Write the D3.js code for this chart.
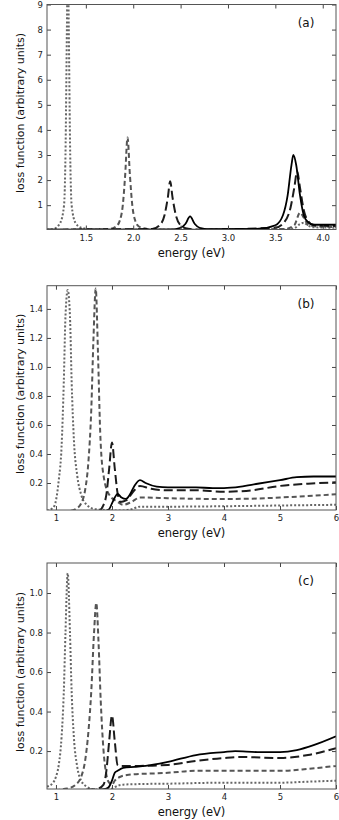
<!DOCTYPE html>
<html>
    <head>
        <script src="https://cdn.jsdelivr.net/npm/d3@7"></script>
        <style>
            body { margin: 0; background: #fff; }
            text { font-family: "DejaVu Sans", sans-serif; }
        </style>
    </head>
    <body>
        <div class="chart"></div>
    </body>
    <script>
        // ---- data: [energy eV, loss] ----
        // panel (a)
        const aSolid = [[1.09,0.02],[2.4,0.03],[2.5,0.1],[2.55,0.25],[2.6,0.55],[2.65,0.25],[2.7,0.1],[2.8,0.04],
            [3.3,0.05],[3.5,0.2],[3.58,0.6],[3.63,1.4],[3.67,2.6],[3.69,3.0],[3.72,2.6],[3.76,1.4],[3.8,0.6],
            [3.85,0.3],[3.9,0.22],[4.14,0.22]];
        const aLong = [[1.09,0.02],[2.2,0.05],[2.28,0.2],[2.33,0.6],[2.365,1.3],[2.39,1.95],[2.415,1.3],[2.45,0.6],
            [2.5,0.2],[2.58,0.06],[2.7,0.03],[3.5,0.1],[3.6,0.35],[3.66,0.9],[3.7,1.7],[3.73,2.35],[3.76,1.7],
            [3.8,0.8],[3.85,0.35],[3.9,0.22],[4.0,0.18],[4.14,0.17]];
        const aDash = [[1.09,0.02],[1.75,0.05],[1.82,0.15],[1.86,0.4],[1.89,1.0],[1.915,2.2],[1.94,3.7],[1.965,2.2],
            [1.99,1.0],[2.02,0.4],[2.06,0.15],[2.15,0.05],[2.3,0.02],[3.6,0.05],[3.7,0.2],[3.76,0.7],[3.8,0.5],
            [3.85,0.2],[3.95,0.15],[4.14,0.13]];
        const aDot = [[1.09,0.02],[1.16,0.05],[1.23,0.3],[1.27,1.0],[1.285,3],[1.30,8],[1.31,11],[1.32,8],
            [1.335,3],[1.35,1],[1.39,0.3],[1.45,0.1],[1.6,0.02],[3.6,0.03],[3.7,0.08],[3.76,0.25],[3.8,0.3],
            [3.84,0.2],[3.9,0.12],[4.14,0.1]];

        // panel (b)
        const bSolid = [[0.84,0.0],[1.85,0.005],[1.95,0.02],[2.0,0.06],[2.05,0.1],[2.1,0.125],[2.17,0.1],[2.25,0.09],
            [2.32,0.12],[2.4,0.18],[2.5,0.22],[2.6,0.2],[2.8,0.175],[3,0.17],[3.5,0.17],[3.8,0.165],[4,0.165],
            [4.3,0.175],[4.6,0.195],[5,0.22],[5.3,0.24],[5.6,0.245],[6,0.245]];
        const bLong = [[0.84,0.0],[1.75,0.005],[1.85,0.05],[1.9,0.12],[1.95,0.3],[2.0,0.48],[2.05,0.3],[2.1,0.13],
            [2.15,0.07],[2.25,0.08],[2.4,0.15],[2.5,0.18],[2.7,0.16],[3,0.15],[3.5,0.15],[4,0.14],[4.5,0.15],
            [5,0.18],[5.5,0.195],[6,0.205]];
        const bDash = [[0.84,0.0],[1.2,0.005],[1.35,0.02],[1.45,0.06],[1.52,0.15],[1.58,0.35],[1.63,0.7],[1.67,1.2],
            [1.71,1.54],[1.75,1.1],[1.79,0.55],[1.85,0.25],[1.95,0.12],[2.1,0.07],[2.2,0.05],[2.35,0.07],[2.5,0.1],
            [2.6,0.1],[3,0.095],[4,0.09],[4.5,0.092],[5,0.1],[5.5,0.11],[6,0.122]];
        const bDot = [[0.84,0.01],[0.95,0.03],[1.0,0.08],[1.05,0.22],[1.1,0.45],[1.14,0.9],[1.17,1.35],[1.21,1.53],
            [1.25,1.35],[1.28,0.9],[1.32,0.5],[1.38,0.25],[1.45,0.12],[1.55,0.05],[1.7,0.02],[2.2,0.01],[2.35,0.02],
            [2.5,0.037],[3,0.037],[4,0.04],[5,0.045],[6,0.05]];

        // panel (c)
        const cSolid = [[0.84,0.0],[1.5,0.0],[1.8,0.005],[1.9,0.01],[1.95,0.02],[2.0,0.05],[2.05,0.09],[2.1,0.1],
            [2.2,0.115],[2.4,0.12],[2.6,0.125],[3,0.145],[3.5,0.18],[4,0.195],[4.2,0.2],[4.6,0.195],[5,0.195],
            [5.3,0.205],[5.6,0.23],[6,0.275]];
        const cLong = [[0.84,0.0],[1.6,0.005],[1.75,0.01],[1.85,0.03],[1.9,0.1],[1.95,0.25],[2.0,0.38],[2.05,0.25],
            [2.1,0.13],[2.15,0.125],[2.3,0.125],[2.5,0.125],[3,0.13],[3.5,0.15],[4,0.165],[4.3,0.17],[5,0.165],
            [5.5,0.18],[6,0.215]];
        const cDash = [[0.84,0.0],[1.2,0.01],[1.35,0.03],[1.45,0.07],[1.52,0.15],[1.58,0.3],[1.63,0.5],[1.68,0.8],
            [1.72,0.95],[1.76,0.75],[1.8,0.45],[1.85,0.2],[1.9,0.08],[1.95,0.04],[2.0,0.03],[2.05,0.05],[2.15,0.07],
            [2.3,0.08],[3,0.09],[3.5,0.1],[4,0.1],[5,0.1],[5.5,0.11],[6,0.125]];
        const cDot = [[0.84,0.02],[0.95,0.04],[1.0,0.07],[1.05,0.13],[1.1,0.27],[1.14,0.5],[1.17,0.8],[1.21,1.1],
            [1.25,0.8],[1.28,0.5],[1.32,0.27],[1.38,0.12],[1.45,0.05],[1.55,0.02],[1.7,0.005],[1.9,0.005],[2.0,0.01],
            [2.1,0.025],[2.2,0.03],[2.5,0.033],[3,0.035],[4,0.04],[5,0.04],[5.5,0.045],[6,0.05]];

        const aXTicks = [1.5, 2.0, 2.5, 3.0, 3.5, 4.0];
        const aYTicks = [1, 2, 3, 4, 5, 6, 7, 8, 9];
        const bcXTicks = [1, 2, 3, 4, 5, 6];
        const bYTicks = [0.2, 0.4, 0.6, 0.8, 1.0, 1.2, 1.4];
        const cYTicks = [0.2, 0.4, 0.6, 0.8, 1.0];
        const panelNames = ["(a)", "(b)", "(c)"];

        const width = 339, height = 820;
        const left = 47, right = 336;

        const styles = [
            {stroke: "#000", dash: null, w: 1.8},
            {stroke: "#1c1c1c", dash: "9,4", w: 2},
            {stroke: "#555", dash: "5,3", w: 2},
            {stroke: "#666", dash: "2,2", w: 2}
        ];

        const svg = d3.select(".chart").append("svg")
            .attr("width", width).attr("height", height);

        const panels = [
            {name: panelNames[0], top: 4.5, bottom: 229.5, xd: [1.09, 4.14], yd: [0.03, 9],
             xt: aXTicks, yt: aYTicks, xf: d3.format(".1f"), yf: d3.format("d"),
             series: [aSolid, aLong, aDash, aDot]},
            {name: panelNames[1], top: 285.7, bottom: 510, xd: [0.84, 6.0], yd: [0.014, 1.56],
             xt: bcXTicks, yt: bYTicks, xf: d3.format("d"), yf: d3.format(".1f"),
             series: [bSolid, bLong, bDash, bDot]},
            {name: panelNames[2], top: 563, bottom: 789, xd: [0.84, 6.0], yd: [0.008, 1.152],
             xt: bcXTicks, yt: cYTicks, xf: d3.format("d"), yf: d3.format(".1f"),
             series: [cSolid, cLong, cDash, cDot]}
        ];

        panels.forEach((p, i) => {
            const x = d3.scaleLinear().domain(p.xd).range([left, right]);
            const y = d3.scaleLinear().domain(p.yd).range([p.bottom, p.top]);
            const g = svg.append("g");

            g.append("clipPath").attr("id", "clip" + i)
                .append("rect").attr("x", left).attr("y", p.top)
                .attr("width", right - left).attr("height", p.bottom - p.top);

            const line = d3.line().x(d => x(d[0])).y(d => y(d[1])).curve(d3.curveMonotoneX);

            // draw dotted first so solid stays on top
            p.series.slice().reverse().forEach((s, k) => {
                const st = styles[3 - k];
                g.append("path").datum(s)
                    .attr("clip-path", `url(#clip${i})`)
                    .attr("d", line)
                    .attr("fill", "none")
                    .attr("stroke", st.stroke)
                    .attr("stroke-width", st.w)
                    .attr("stroke-dasharray", st.dash);
            });

            // axes, inward ticks on all four sides
            g.append("g").attr("transform", `translate(0,${p.bottom})`)
                .call(d3.axisBottom(x).tickValues(p.xt).tickFormat(p.xf).tickSizeInner(-4).tickSizeOuter(0).tickPadding(5));
            g.append("g").attr("transform", `translate(0,${p.top})`)
                .call(d3.axisTop(x).tickValues(p.xt).tickFormat("").tickSizeInner(-4).tickSizeOuter(0));
            g.append("g").attr("transform", `translate(${left},0)`)
                .call(d3.axisLeft(y).tickValues(p.yt).tickFormat(p.yf).tickSizeInner(-4).tickSizeOuter(0).tickPadding(4));
            g.append("g").attr("transform", `translate(${right},0)`)
                .call(d3.axisRight(y).tickValues(p.yt).tickFormat("").tickSizeInner(-4).tickSizeOuter(0));

            g.selectAll(".domain").remove();
            g.selectAll(".tick line").attr("stroke", "#444");
            g.selectAll(".tick text").attr("fill", "#222").style("font-size", "8.5px")
                .style("font-family", "'DejaVu Sans', sans-serif");

            g.append("rect").attr("x", left).attr("y", p.top)
                .attr("width", right - left).attr("height", p.bottom - p.top)
                .attr("fill", "none").attr("stroke", "#555").attr("stroke-width", 1);

            g.append("text").attr("x", 306).attr("y", p.top + 22)
                .attr("text-anchor", "middle").style("font-size", "12px").attr("fill", "#111")
                .text(p.name);

            g.append("text").attr("x", (left + right) / 2).attr("y", p.bottom + 27)
                .attr("text-anchor", "middle").style("font-size", "11.5px").attr("fill", "#111")
                .text("energy (eV)");

            g.append("text")
                .attr("transform", `translate(24,${(p.top + p.bottom) / 2 - 4}) rotate(-90)`)
                .attr("text-anchor", "middle").style("font-size", "11px").attr("fill", "#111")
                .text("loss function (arbitrary units)");
        });
    </script>
</html>
